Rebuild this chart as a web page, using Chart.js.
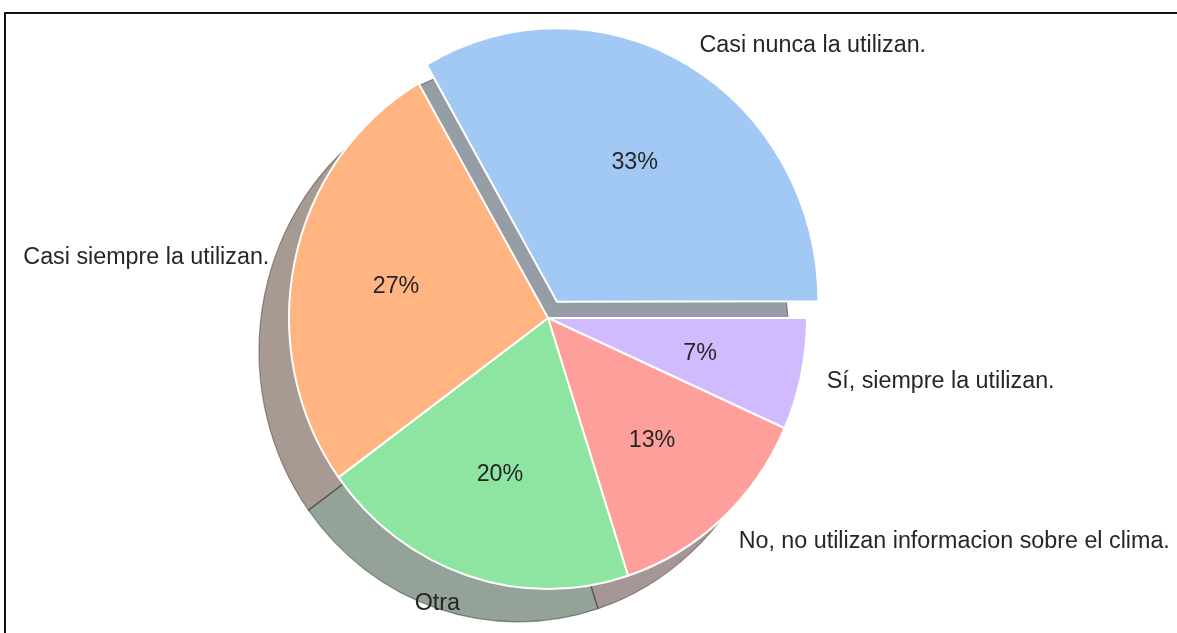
<!DOCTYPE html>
<html>
<head>
<meta charset="utf-8">
<script src="https://cdn.jsdelivr.net/npm/chart.js@4.4.1/dist/chart.umd.min.js"></script>
<style>
  body { margin:0; background:#fff; }
  #wrap { position:relative; width:1177px; height:633px; overflow:hidden; }
  #frame { position:absolute; left:4px; top:12px; right:-10px; bottom:-10px;
           border-left:2px solid #111; border-top:2px solid #111; pointer-events:none; }
</style>
</head>
<body>
<div id="wrap">
  <canvas id="pie" width="1177" height="633"></canvas>
  <div id="frame"></div>
</div>
<script>

// ===== Data =====

const categories = [
  "Casi nunca la utilizan.",
  "Casi siempre la utilizan.",
  "Otra",
  "No, no utilizan informacion sobre el clima.",
  "Sí, siempre la utilizan."
];

const counts = [5, 4, 3, 2, 1];

// seaborn pastel
const colors = ["#a1c9f4", "#ffb482", "#8de5a1", "#ff9f9b", "#d0bbff"];


// ===== Look =====

const yStretch = 271 / 259;          // pie is a bit taller than wide
const shadowShift = { x: -30, y: 31.5 };
const labelFont = "23.3px 'Liberation Sans', Arial, sans-serif";
const textColor = "#262626";
const textDrop = 2;                  // matplotlib centres on the full text box

const total = counts.reduce((a, b) => a + b, 0);

// matplotlib goes counter-clockwise from 3 o'clock, chart.js clockwise,
// so feed the slices in reverse order
const order = categories.map((c, i) => i).reverse();

function shadowColor(hex){
  const n = parseInt(hex.slice(1), 16);
  const r = (n >> 16) & 255, g = (n >> 8) & 255, b = n & 255;
  return `rgba(${Math.round(r*0.3)},${Math.round(g*0.3)},${Math.round(b*0.3)},0.5)`;
}

function arcCenter(el){
  const mid = (el.startAngle + el.endAngle) / 2;
  const off = (el.options.offset || 0) / 4;
  return { mid, x: el.x + Math.cos(mid) * off, y: el.y + Math.sin(mid) * off };
}


// ===== Stretch + shadows under the slices =====

const stretchPlugin = {
  id: "stretch",
  beforeDatasetsDraw(chart){
    const ctx = chart.ctx;
    const els = chart.getDatasetMeta(0).data;
    const cy = els[0].y;
    ctx.save();
    ctx.translate(0, cy);
    ctx.scale(1, yStretch);
    ctx.translate(0, -cy);

    els.forEach((el, i) => {
      const c = arcCenter(el);
      const off = (el.options.offset || 0) / 4;
      const fix = 1 - Math.sin(Math.min(Math.PI, el.endAngle - el.startAngle));
      const r = el.outerRadius + off * fix;
      const sx = c.x + shadowShift.x, sy = c.y + shadowShift.y;
      ctx.beginPath();
      ctx.moveTo(sx, sy);
      ctx.arc(sx, sy, r, el.startAngle, el.endAngle);
      ctx.closePath();
      ctx.fillStyle = shadowColor(colors[order[i]]);
      ctx.strokeStyle = shadowColor(colors[order[i]]);
      ctx.lineWidth = 1.2;
      ctx.fill();
      ctx.stroke();
    });
  },
  afterDatasetsDraw(chart){
    const ctx = chart.ctx;
    ctx.restore();

    const els = chart.getDatasetMeta(0).data;
    const cy = els[0].y;
    ctx.save();
    ctx.font = labelFont;
    ctx.fillStyle = textColor;
    ctx.textBaseline = "middle";

    els.forEach((el, i) => {
      const c = arcCenter(el);
      const k = order[i];
      const r = el.outerRadius;

      // outer label
      const lx = c.x + Math.cos(c.mid) * r * 1.1;
      const ly = cy + (c.y + Math.sin(c.mid) * r * 1.1 - cy) * yStretch + textDrop;
      ctx.textAlign = Math.cos(c.mid) >= 0 ? "left" : "right";
      ctx.fillText(categories[k], lx, ly);

      // percentage
      const px = c.x + Math.cos(c.mid) * r * 0.6;
      const py = cy + (c.y + Math.sin(c.mid) * r * 0.6 - cy) * yStretch + textDrop;
      ctx.textAlign = "center";
      ctx.fillText(Math.round(counts[k] / total * 100) + "%", px, py);
    });
    ctx.restore();
  }
};


// ===== Chart =====

const pieChart = new Chart(document.getElementById("pie"), {

  type: "pie",

  data: {
    labels: order.map(i => categories[i]),
    datasets: [{
      data: order.map(i => counts[i]),
      backgroundColor: order.map(i => colors[i]),
      borderColor: "#ffffff",
      borderWidth: 2,
      offset: order.map(i => i === 0 ? 72 : 0),
      clip: false
    }]
  },

  options: {
    responsive: false,
    animation: false,
    events: [],
    rotation: 90,
    radius: 259,
    layout: { padding: { left: 0, right: 81, top: 3, bottom: 0 } },
    plugins: {
      legend: { display: false },
      tooltip: { enabled: false }
    }
  },

  plugins: [stretchPlugin]

});

</script>
</body>
</html>
